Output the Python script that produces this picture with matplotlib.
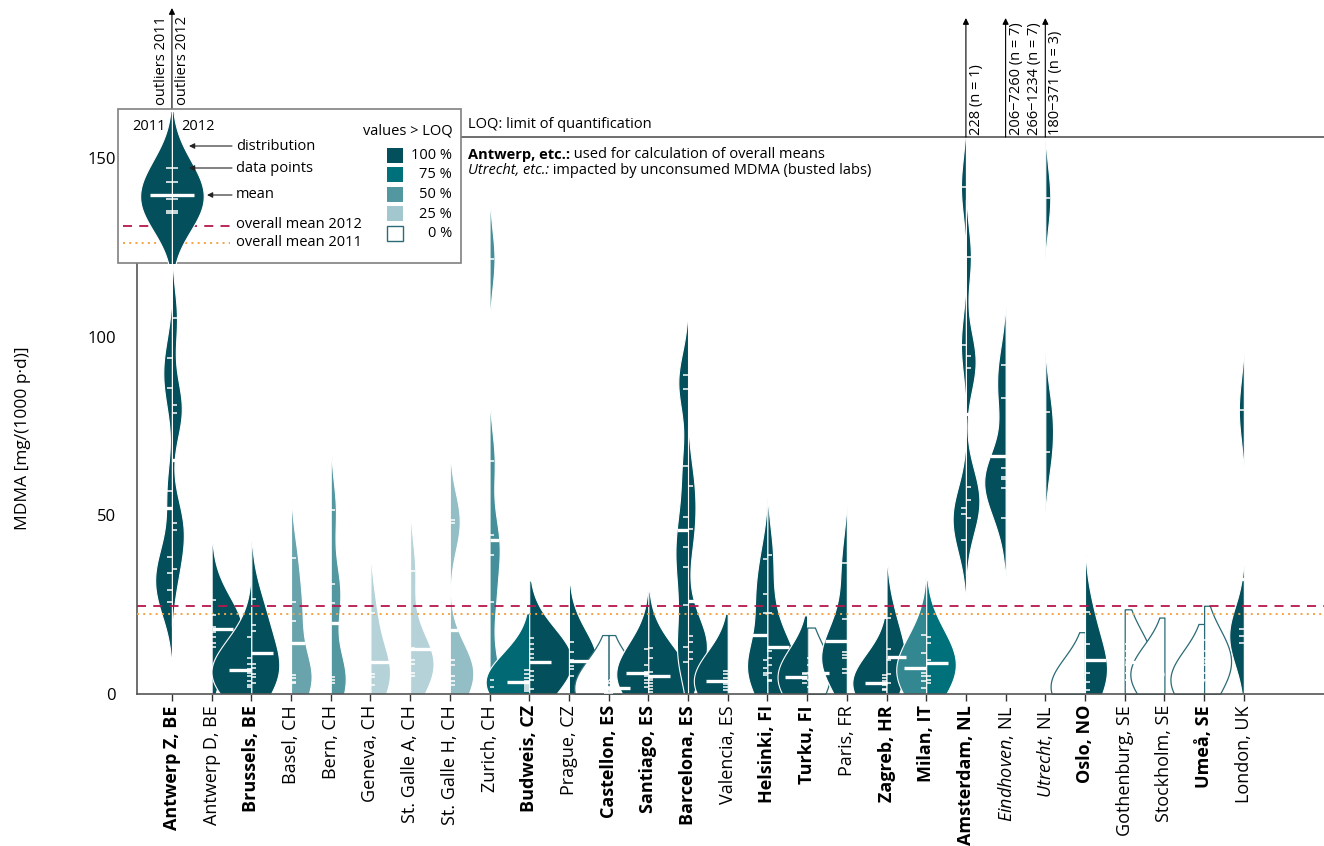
import numpy as np
import matplotlib.pyplot as plt
from matplotlib.colors import LinearSegmentedColormap
from matplotlib.patches import Rectangle
from matplotlib.transforms import Affine2D

plt.rcParams['font.family'] = ['Open Sans', 'DejaVu Sans']
plt.rcParams['mathtext.fontset'] = 'custom'
plt.rcParams['mathtext.rm'] = 'Open Sans'
plt.rcParams['mathtext.it'] = 'Open Sans:italic'
plt.rcParams['mathtext.bf'] = 'Open Sans:bold'

# ---- data ----
cities = ['Antwerp Z', 'Antwerp D', 'Brussels', 'Basel', 'Bern', 'Geneva',
          'St. Galle A', 'St. Galle H', 'Zurich', 'Budweis', 'Prague',
          'Castellon', 'Santiago', 'Barcelona', 'Valencia', 'Helsinki',
          'Turku', 'Paris', 'Zagreb', 'Milan', 'Amsterdam', 'Eindhoven',
          'Utrecht', 'Oslo', 'Gothenburg', 'Stockholm', 'Umeå', 'London']
countries = ['BE', 'BE', 'BE', 'CH', 'CH', 'CH', 'CH', 'CH', 'CH', 'CZ', 'CZ',
             'ES', 'ES', 'ES', 'ES', 'FI', 'FI', 'FR', 'HR', 'IT', 'NL', 'NL',
             'NL', 'NO', 'SE', 'SE', 'SE', 'UK']
# b = used for overall means, i = busted labs, n = normal
name_style = ['b', 'n', 'b', 'n', 'n', 'n', 'n', 'n', 'n', 'b', 'n', 'b', 'b',
              'b', 'n', 'b', 'b', 'n', 'b', 'b', 'b', 'i', 'i', 'b', 'n', 'n',
              'b', 'n']

vals_2011 = [
    [94.0, 85.6, 56.9, 38.4, 34.0, 29.1, 25.8],
    None,
    [16.0, 10.0, 8.3, 7.0, 6.0, 5.0, 3.5, 2.5, 2.0],
    None, None, None, None, None, None,
    [6.6, 5.5, 4.5, 3.5, 3.0, 2.5, 2.0, 1.5, 0.8],
    None,
    [3.5, 3.0, 2.0, 1.5, 1.0, 0.5, 0.3],
    [12.6, 8.0, 6.2, 5.0, 4.0, 3.0, 2.0],
    [89.3, 85.4, 63.9, 49.5, 41.1, 35.6, 25.0, 13.2, 9.0],
    [6.5, 5.5, 4.5, 3.4, 2.8, 2.0, 1.1],
    [37.7, 28.1, 22.8, 9.5, 7.2, 5.8, 5.3],
    [6.0, 5.5, 4.8, 4.5, 4.2, 3.2],
    [36.6, 21.0, 11.8, 11.0, 10.2, 7.0, 5.8],
    [5.3, 4.5, 3.5, 3.0, 2.5, 1.5, 1.0],
    [16.4, 11.4, 7.4, 6.0, 5.0, 3.5, 1.8],
    [142.0, 97.7, 52.0, 50.5, 43.1],
    [92.1, 82.8, 63.2, 60.7, 60.1, 57.6, 49.2],
    None,
    [4.0, 3.0, 2.5, 2.0, 1.5, 1.0, 0.5],
    None,
    [8.0, 7.0, 6.0, 5.5, 5.0, 4.0, 3.0],
    [7.0, 6.0, 5.0, 4.0, 3.0, 2.0, 1.0],
    [79.5, 18.2, 16.3, 14.2],
]
vals_2012 = [
    [105.1, 80.9, 78.6, 47.8, 45.9, 35.0],
    [26.3, 22.1, 18.8, 17.4, 16.0, 14.2, 13.2],
    [26.7, 19.3, 17.6, 8.3, 7.4, 5.5, 4.8, 3.2],
    [38.0, 25.8, 20.4, 5.3, 4.4, 3.4, 3.0],
    [51.5, 30.7, 25.4, 4.8, 3.9, 3.0],
    [22.6, 9.0, 5.5, 4.8, 2.5],
    [34.4, 13.0, 9.5, 8.4, 6.0, 5.0],
    [48.7, 47.8, 9.5, 8.1, 5.0, 3.5, 2.5],
    [121.7, 65.2, 44.5, 38.9, 25.7, 3.9, 2.0],
    [15.8, 14.0, 12.5, 11.1, 10.0, 9.0, 6.5, 5.0, 3.9, 1.4],
    [14.6, 11.7, 9.5, 7.9, 7.0, 5.1],
    [4.0, 3.0, 2.0, 1.5, 1.0, 0.5, 0.3],
    [12.8, 10.2, 6.2, 4.5, 3.9, 3.0, 2.1, 1.3, 0.5],
    [58.2, 46.1, 16.3, 14.6, 11.7, 9.8],
    None,
    [38.9, 22.8, 12.0, 10.0, 8.0, 6.0, 4.0, 3.5],
    [10.0, 8.0, 6.0, 4.0, 2.0],
    None,
    [21.3, 12.7, 9.6, 5.6, 3.1],
    [16.0, 14.2, 9.5, 8.6, 5.0, 3.9, 3.0],
    [122.4, 94.7, 91.2, 58.0, 54.3, 49.2],
    None,
    [138.9, 79.0, 67.6],
    [22.9, 14.0, 9.3, 5.8, 3.3, 1.1],
    [14.0, 12.0, 10.0, 8.0, 6.0, 4.0],
    None,
    [15.0, 12.0, 10.0, 8.0, 6.0, 4.0],
    None,
]
# share of values > LOQ
pct_2011 = [1.0, None, 1.0, None, None, None, None, None, None, 0.8, None,
            0.0, 1.0, 1.0, 1.0, 1.0, 1.0, 1.0, 1.0, 0.6, 1.0, 1.0, None, 0.0,
            None, 0.0, 0.0, 1.0]
pct_2012 = [1.0, 1.0, 1.0, 0.43, 0.5, 0.2, 0.2, 0.3, 0.55, 1.0, 1.0, 0.0, 1.0,
            1.0, None, 1.0, 0.0, None, 1.0, 0.75, 1.0, None, 1.0, 1.0, 0.0,
            None, 0.0, None]
# LOQ cap for halves with no value above LOQ
loq_2011 = [None] * 11 + [16.5] + [None] * 11 + [17.3, None, 21.4, 19.6, None]
loq_2012 = ([None] * 11 + [16.5] + [None] * 4 + [18.6] + [None] * 7
            + [23.7, None, 24.7, None])
outliers_2011 = [None] * 22 + ['266−1234 (n = 7)'] + [None] * 5
outliers_2012 = [None] * 20 + ['228 (n = 1)', '206−7260 (n = 7)',
                               '180−371 (n = 3)'] + [None] * 5
overall_mean_2011 = 22.4
overall_mean_2012 = 24.5
legend_sample = [147.2, 143.2, 138.5, 135.3, 134.5]

# ---- style ----
BW = 8.0          # kernel bandwidth
CUT = 16.0        # tail beyond data
WSCALE = 0.125    # half width per data point
TICK = 0.12
OUTLINE = '#2a6b75'
cmap = LinearSegmentedColormap.from_list(
    'loq', [(0, '#ffffff'), (0.25, '#a2c7ce'), (0.5, '#5497a1'),
            (0.75, '#00707a'), (1.0, '#034f5b')])

W, H = 1324, 846
fig = plt.figure(figsize=(W / 100, H / 100), dpi=100)
ax = fig.add_axes([137 / W, 1 - 694 / H, 1 - 137 / W, (694 - 137) / H])
ax.set_xlim(-0.88, 29.02)
ax.set_ylim(0, 155.9)
PX = Affine2D().scale(1 / W, -1 / H).translate(0, 1) + fig.transFigure


def profile(vals, cap=None):
    v = np.asarray(vals, float)
    lo = max(0.0, v.min() - CUT)
    hi = cap if cap is not None else v.max() + CUT
    y = np.linspace(lo, hi, 400)
    w = np.exp(-0.5 * ((y[:, None] - v[None, :]) / BW) ** 2).sum(axis=1)
    return y, w


def draw_half(x0, vals, pct, cap, side, scale=WSCALE, clip=None):
    y, w = profile(vals, cap)
    w = w * scale
    if side < 0:
        x1, x2 = x0 - w, x0
    else:
        x1, x2 = x0, x0 + w
    if pct == 0:
        poly = ax.fill_betweenx(y, x1, x2, facecolor='white',
                                edgecolor=OUTLINE, lw=0.9, zorder=2)
    else:
        poly = ax.fill_betweenx(y, x1, x2, facecolor=cmap(pct),
                                edgecolor='white', lw=0.8, zorder=2)
    if clip is not None:
        poly.set_zorder(31)
        poly.set_clip_path(clip)
    return y, w


for i in range(len(cities)):
    for vals, pct, cap, side in [(vals_2011[i], pct_2011[i], loq_2011[i], -1),
                                 (vals_2012[i], pct_2012[i], loq_2012[i], 1)]:
        if vals is None:
            continue
        y, w = draw_half(i, vals, pct, cap, side)
        for v in vals:
            ax.plot([i, i + side * TICK], [v, v], color='white', lw=1.1,
                    solid_capstyle='butt', zorder=20)
        m = np.mean(vals)
        L = min(0.55, max(np.interp(m, y, w), 0.2))
        ax.plot([i, i + side * L], [m, m], color='white', lw=2.4,
                solid_capstyle='butt', zorder=21)

ax.axhline(overall_mean_2012, color='#b5174b', lw=1.3, ls=(0, (5, 4)), zorder=3)
ax.axhline(overall_mean_2011, color='#f5a341', lw=1.4, ls=(0, (1, 2.2)), zorder=3)

# outlier arrows
arrow = dict(arrowstyle='-|>', color='black', lw=0.8, shrinkA=0, shrinkB=0,
             mutation_scale=9)
for i in range(len(cities)):
    if outliers_2011[i] or outliers_2012[i]:
        ax.annotate('', xy=(i, 189.2), xytext=(i, 155.9), arrowprops=arrow,
                    annotation_clip=False)
    if outliers_2011[i]:
        ax.text(i - 0.08, 156.5, outliers_2011[i], rotation=90, ha='right',
                va='bottom', fontsize=10.5, clip_on=False)
    if outliers_2012[i]:
        ax.text(i + 0.08, 156.5, outliers_2012[i], rotation=90, ha='left',
                va='bottom', fontsize=10.5, clip_on=False)

# ---- axes ----
labels = []
for c, k, s in zip(cities, countries, name_style):
    if s == 'i':
        labels.append(r'$\it{' + c + '}$, ' + k)
    else:
        labels.append(c + ', ' + k)
ax.set_xticks(range(len(cities)))
ax.set_xticklabels(labels, rotation=90, fontsize=13)
for t, s in zip(ax.get_xticklabels(), name_style):
    if s == 'b':
        t.set_fontweight('bold')
ax.tick_params(axis='x', length=5, width=1, color='#333333', pad=3)
ax.set_yticks([0, 50, 100, 150])
ax.tick_params(axis='y', length=0, pad=15, labelsize=12)
ax.set_ylabel('MDMA [mg/(1000 p·d)]', fontsize=12.5)
ax.yaxis.set_label_coords(-0.089, 0.46)
ax.spines['right'].set_visible(False)
for sp in ['left', 'bottom', 'top']:
    ax.spines[sp].set_color('#555555')
    ax.spines[sp].set_linewidth(1.2)

# ---- legend box ----
box = Rectangle((118, 263), 343, -154, transform=PX, facecolor='white',
                edgecolor='#808080', lw=1.2, zorder=30, clip_on=False)
ax.add_patch(box)
tk = dict(transform=PX, fontsize=10.5, zorder=33, clip_on=False)
ax.plot([123, 230], [226.5, 226.5], color='#b5174b', lw=1.3, ls=(0, (5, 4)),
        transform=PX, zorder=30.5, clip_on=False)
ax.plot([123, 230], [243.5, 243.5], color='#f5a341', lw=1.4, ls=(0, (1, 2.2)),
        transform=PX, zorder=30.5, clip_on=False)

draw_half(0, legend_sample, 1.0, None, -1, scale=0.19, clip=box)
draw_half(0, legend_sample, 1.0, None, 1, scale=0.19, clip=box)
for v in legend_sample:
    ax.plot([-0.16, 0.16], [v, v], color='white', lw=1.1, solid_capstyle='butt',
            zorder=32, clip_on=False)
m = np.mean(legend_sample)
ax.plot([-0.55, 0.55], [m, m], color='white', lw=2.4, solid_capstyle='butt',
        zorder=32, clip_on=False)
ax.annotate('', xy=(0, 192.0), xytext=(0, 163.7), arrowprops=arrow,
            annotation_clip=False)
ax.text(-0.08, 164.8, 'outliers 2011', rotation=90, ha='right', va='bottom',
        fontsize=10.5, clip_on=False)
ax.text(0.08, 164.8, 'outliers 2012', rotation=90, ha='left', va='bottom',
        fontsize=10.5, clip_on=False)

ax.text(149, 126, '2011', ha='center', va='center', **tk)
ax.text(198, 126, '2012', ha='center', va='center', **tk)
for txt, yy, xh in [('distribution', 146, 189), ('data points', 168, 189),
                    ('mean', 195, 207)]:
    ax.text(236, yy, txt, ha='left', va='center', **tk)
    ax.annotate('', xy=(xh, yy), xytext=(232, yy), xycoords=PX,
                arrowprops=dict(arrowstyle='-|>', color='#222222', lw=0.8,
                                shrinkA=0, shrinkB=0, mutation_scale=8),
                zorder=33, annotation_clip=False)
ax.text(236, 225, 'overall mean 2012', ha='left', va='center', **tk)
ax.text(236, 243, 'overall mean 2011', ha='left', va='center', **tk)
ax.text(453, 131, 'values > LOQ', ha='right', va='center', **tk)
for k, p in enumerate([1.0, 0.75, 0.5, 0.25, 0.0]):
    top = 148 + k * 19.5
    sq = Rectangle((387, top + 15), 16, -15, transform=PX, zorder=33,
                   facecolor=cmap(p) if p > 0 else 'white',
                   edgecolor=OUTLINE if p == 0 else 'none', lw=1.0,
                   clip_on=False)
    ax.add_patch(sq)
    ax.text(452, top + 7.5, '%d %%' % round(p * 100), ha='right',
            va='center', **tk)

ax.text(468, 125, 'LOQ: limit of quantification', ha='left', va='center', **tk)
t1 = ax.text(468, 155, 'Antwerp, etc.:', ha='left', va='center',
             fontweight='bold', **tk)
ax.annotate(' used for calculation of overall means', xy=(1, 0), xycoords=t1,
            ha='left', va='bottom', fontsize=10.5, zorder=33,
            annotation_clip=False)
t2 = ax.text(468, 170, 'Utrecht, etc.:', ha='left', va='center',
             fontstyle='italic', **tk)
ax.annotate(' impacted by unconsumed MDMA (busted labs)', xy=(1, 0),
            xycoords=t2, ha='left', va='bottom', fontsize=10.5, zorder=33,
            annotation_clip=False)

plt.savefig('out.png', dpi=100)
